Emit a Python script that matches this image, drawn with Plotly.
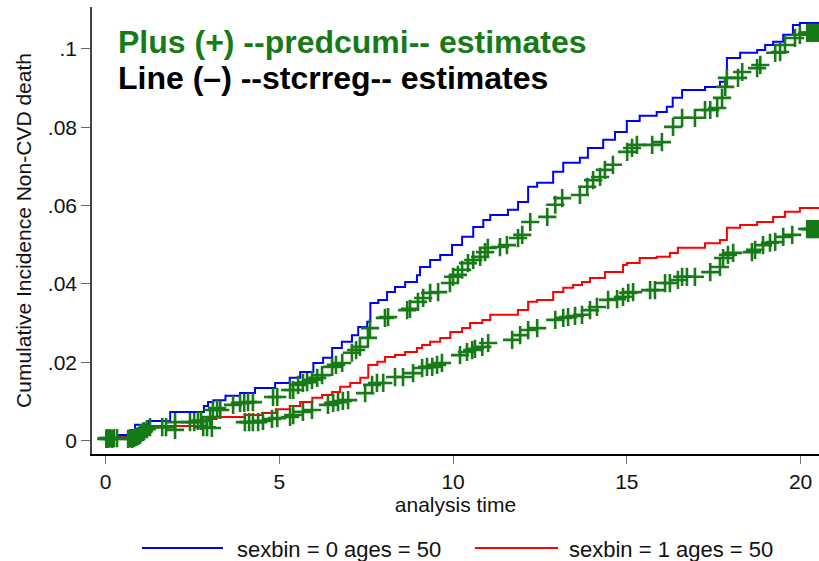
import plotly.graph_objects as go

# --- stcrreg cumulative incidence (step functions): jump times and levels ---
sex0_time = [0.3, 0.7, 0.85, 1.22, 1.86, 2.83, 2.95, 3.1, 3.45, 3.87, 4.3, 4.88, 5.3, 5.6,
             5.98, 6.26, 6.52, 6.8, 7.09, 7.27, 7.53, 7.62, 7.85, 8.1, 8.33, 8.62, 8.96, 9.05,
             9.34, 9.63, 9.97, 10.26, 10.58, 10.87, 11.07, 11.58, 11.87, 12.16, 12.42, 12.88,
             13.17, 13.65, 13.88, 14.32, 14.66, 15.0, 15.37, 15.86, 16.15, 16.32, 16.59, 17.25,
             17.68, 17.88, 18.26, 18.75, 18.98, 19.21, 19.5, 19.78, 19.98, 20.53]
sex0_cif = [0.0014, 0.0027, 0.0040, 0.0050, 0.0073, 0.0088, 0.0098, 0.0103, 0.0114, 0.0121,
            0.0134, 0.0147, 0.0160, 0.0175, 0.0198, 0.0211, 0.0236, 0.0252, 0.0269, 0.0290,
            0.0303, 0.0351, 0.0359, 0.0379, 0.0392, 0.0405, 0.0422, 0.0443, 0.0461, 0.0474,
            0.0499, 0.0520, 0.0545, 0.0563, 0.0576, 0.0589, 0.0609, 0.0648, 0.0658, 0.0686,
            0.0709, 0.0722, 0.0747, 0.0768, 0.0788, 0.0816, 0.0829, 0.0839, 0.0852, 0.0875,
            0.0895, 0.0903, 0.0916, 0.0977, 0.0990, 0.0997, 0.1010, 0.1018, 0.1036, 0.1061,
            0.1066, 0.1066]

sex1_time = [0.28, 0.66, 1.0, 1.3, 2.9, 3.2, 4.0, 4.5, 4.9, 5.3, 5.6, 5.95, 6.23, 6.52, 6.75,
             7.04, 7.33, 7.56, 7.82, 8.04, 8.33, 8.62, 8.96, 9.11, 9.34, 9.63, 9.92, 10.26,
             10.49, 10.84, 11.07, 11.87, 12.16, 12.42, 12.88, 13.17, 13.45, 13.71, 13.94, 14.37,
             14.89, 15.0, 15.37, 15.86, 16.24, 16.47, 17.25, 17.68, 17.88, 18.26, 18.75, 19.21,
             19.55, 19.98, 20.53]
sex1_cif = [0.0009, 0.0022, 0.0027, 0.0037, 0.0055, 0.0060, 0.0065, 0.0070, 0.0080, 0.0088,
            0.0098, 0.0109, 0.0116, 0.0124, 0.0137, 0.0147, 0.0160, 0.0193, 0.0201, 0.0213,
            0.0218, 0.0226, 0.0236, 0.0244, 0.0252, 0.0262, 0.0277, 0.0287, 0.0300, 0.0308,
            0.0321, 0.0333, 0.0354, 0.0359, 0.0379, 0.0390, 0.0397, 0.0405, 0.0415, 0.0430,
            0.0448, 0.0453, 0.0466, 0.0469, 0.0479, 0.0492, 0.0504, 0.0512, 0.0543, 0.0550,
            0.0558, 0.0571, 0.0584, 0.0594, 0.0594]

# --- predcumi estimates (plus markers) ---
pred0_time = [0.04, 0.13, 0.24, 0.33, 0.71, 0.82, 0.94, 1.02, 1.11, 1.19, 1.28, 2.0, 2.43, 2.55,
              2.66, 2.75, 3.01, 3.09, 3.21, 3.3, 3.67, 3.87, 3.99, 4.1, 4.24, 4.82, 4.94, 5.31,
              5.4, 5.54, 5.68, 5.8, 5.94, 6.09, 6.23, 6.52, 6.63, 6.81, 7.09, 7.21, 7.32, 7.55,
              7.61, 8.04, 8.13, 8.68, 8.76, 8.99, 9.14, 9.34, 9.57, 9.91, 10.0, 10.14, 10.26,
              10.43, 10.58, 10.78, 10.92, 11.0, 11.35, 11.55, 11.87, 11.99, 12.22, 12.71, 12.94,
              13.14, 13.65, 13.86, 14.03, 14.23, 14.37, 14.6, 15.01, 15.15, 15.29, 15.73, 16.01,
              16.33, 16.59, 16.96, 17.25, 17.4, 17.6, 17.74, 17.83, 17.88, 18.2, 18.32, 18.75,
              18.84, 19.27, 19.41, 19.55, 19.84, 19.98, 20.19, 20.25, 20.3, 20.35, 20.4, 20.45,
              20.5]
pred0_cif = [0.0006, 0.0006, 0.0006, 0.0006, 0.0006, 0.0006, 0.0011, 0.0019, 0.0024, 0.0029,
             0.0034, 0.0047, 0.0047, 0.0047, 0.0050, 0.0050, 0.0060, 0.0078, 0.0083, 0.0078,
             0.0091, 0.0096, 0.0096, 0.0098, 0.0098, 0.0111, 0.0111, 0.0129, 0.0129, 0.0142,
             0.0147, 0.0149, 0.0155, 0.0160, 0.0167, 0.0188, 0.0193, 0.0198, 0.0224, 0.0231,
             0.0239, 0.0262, 0.0287, 0.0313, 0.0315, 0.0333, 0.0336, 0.0354, 0.0364, 0.0377,
             0.0379, 0.0402, 0.0418, 0.0423, 0.0436, 0.0453, 0.0461, 0.0469, 0.0481, 0.0492,
             0.0494, 0.0499, 0.0517, 0.0525, 0.0558, 0.0571, 0.0602, 0.0619, 0.0627, 0.0648,
             0.0665, 0.0673, 0.0691, 0.0704, 0.0737, 0.0747, 0.0755, 0.0755, 0.0762, 0.0801,
             0.0824, 0.0824, 0.0844, 0.0844, 0.0849, 0.0875, 0.0903, 0.0926, 0.0926, 0.0941,
             0.0951, 0.0959, 0.0990, 0.0992, 0.1010, 0.1028, 0.1036, 0.1041, 0.1041, 0.1041,
             0.1041, 0.1041, 0.1041, 0.1041]

pred1_time = [0.02, 0.08, 0.19, 0.65, 0.76, 0.88, 0.99, 1.08, 1.63, 1.74, 2.0, 2.81, 2.92, 3.06,
              4.01, 4.13, 4.24, 4.39, 4.53, 4.79, 4.94, 5.31, 5.4, 5.68, 5.94, 6.4, 6.55, 6.69,
              6.83, 6.98, 7.47, 7.67, 7.81, 7.99, 8.33, 8.56, 8.85, 9.11, 9.25, 9.4, 9.54, 9.68,
              10.2, 10.4, 10.55, 10.63, 10.84, 11.01, 11.7, 11.93, 12.16, 12.42, 12.94, 13.17,
              13.31, 13.51, 13.71, 13.94, 14.14, 14.46, 14.72, 14.89, 15.04, 15.18, 15.67, 15.81,
              16.1, 16.24, 16.47, 16.59, 16.73, 16.96, 17.4, 17.68, 17.77, 17.91, 18.06, 18.6,
              18.69, 18.92, 19.12, 19.27, 19.5, 19.76, 20.19, 20.25, 20.3, 20.35, 20.4, 20.45,
              20.5]
pred1_cif = [0.0004, 0.0004, 0.0004, 0.0004, 0.0004, 0.0009, 0.0014, 0.0022, 0.0034, 0.0034,
             0.0027, 0.0034, 0.0034, 0.0032, 0.0047, 0.0047, 0.0047, 0.0047, 0.0050, 0.0055,
             0.0057, 0.0060, 0.0065, 0.0073, 0.0078, 0.0091, 0.0096, 0.0098, 0.0101, 0.0103,
             0.0121, 0.0142, 0.0147, 0.0147, 0.0162, 0.0162, 0.0172, 0.0185, 0.0188, 0.0188,
             0.0193, 0.0198, 0.0218, 0.0226, 0.0231, 0.0234, 0.0239, 0.0249, 0.0257, 0.0269,
             0.0282, 0.0287, 0.0308, 0.0313, 0.0315, 0.0318, 0.0321, 0.0333, 0.0341, 0.0359,
             0.0361, 0.0367, 0.0377, 0.0379, 0.0384, 0.0384, 0.0402, 0.0402, 0.0410, 0.0418,
             0.0418, 0.0418, 0.0430, 0.0443, 0.0466, 0.0474, 0.0479, 0.0481, 0.0487, 0.0499,
             0.0505, 0.0507, 0.0520, 0.0525, 0.0540, 0.0540, 0.0540, 0.0540, 0.0540, 0.0540,
             0.0540]

x_ticks = [0, 5, 10, 15, 20]
y_ticks = [0, 0.02, 0.04, 0.06, 0.08, 0.1]
y_ticktext = ["0", ".02", ".04", ".06", ".08", ".1"]
legend_labels = ["sexbin = 0 ages = 50", "sexbin = 1 ages = 50"]

BLUE = "#0000ff"
RED = "#ff0000"
GREEN = "#167a16"
FONT = "Arial, Liberation Sans, sans-serif"
TXT = 21

W, H = 819, 561
L, R, T, B = 92, 0, 7, 107
PW, PH = W - L - R, H - T - B


def px(xp):
    return (xp - L) / PW


def py(yp):
    return (H - B - yp) / PH


fig = go.Figure()

fig.add_trace(go.Scatter(x=sex0_time, y=sex0_cif, mode="lines", line_shape="hv",
                         line=dict(color=BLUE, width=2), showlegend=False))
fig.add_trace(go.Scatter(x=sex1_time, y=sex1_cif, mode="lines", line_shape="hv",
                         line=dict(color=RED, width=2), showlegend=False))

plus = dict(symbol="cross-thin", size=13, line=dict(color=GREEN, width=2.6), color=GREEN)
fig.add_trace(go.Scatter(x=pred0_time, y=pred0_cif, mode="markers", marker=plus,
                         showlegend=False))
fig.add_trace(go.Scatter(x=pred1_time, y=pred1_cif, mode="markers", marker=plus,
                         showlegend=False))

# Heading text inside the plot region
fig.add_annotation(text="<b>Plus (+) --predcumi-- estimates</b>", xref="paper", yref="paper",
                   x=px(116), y=py(42), xanchor="left", yanchor="middle", showarrow=False,
                   font=dict(family=FONT, size=32, color=GREEN))
fig.add_annotation(text="<b>Line (–) --stcrreg-- estimates</b>", xref="paper", yref="paper",
                   x=px(116), y=py(78), xanchor="left", yanchor="middle", showarrow=False,
                   font=dict(family=FONT, size=32, color="#000000"))

# Legend below the axis: line keys with labels
for (x0, x1, xt), colr, lab in zip([(142, 223, 235), (475, 558, 567)], [BLUE, RED],
                                   legend_labels):
    fig.add_shape(type="line", xref="paper", yref="paper", x0=px(x0), x1=px(x1),
                  y0=py(548), y1=py(548), line=dict(color=colr, width=2))
    fig.add_annotation(text=lab, xref="paper", yref="paper", x=px(xt), y=py(549),
                       xanchor="left", yanchor="middle", showarrow=False,
                       font=dict(family=FONT, size=22, color="#111111"))

fig.update_layout(
    width=W, height=H,
    margin=dict(l=L, r=R, t=T, b=B, pad=0),
    paper_bgcolor="white", plot_bgcolor="white",
    font=dict(family=FONT, size=TXT, color="#111111"),
    showlegend=False,
)

fig.update_xaxes(range=[-0.39, 20.53], tickvals=x_ticks, ticks="outside", ticklen=8,
                 tickcolor="#777777", tickwidth=1, showline=True, linecolor="#000000",
                 linewidth=1.5, showgrid=False, zeroline=False, ticklabelstandoff=0,
                 tickfont=dict(size=TXT),
                 title=dict(text="analysis time", font=dict(size=TXT), standoff=0))
fig.update_yaxes(range=[-0.00345, 0.1107], tickvals=y_ticks, ticktext=y_ticktext,
                 ticks="outside", ticklen=9, tickcolor="#666666", tickwidth=1,
                 showline=True, linecolor="#444444", linewidth=1.5, showgrid=False,
                 zeroline=False, tickfont=dict(size=TXT),
                 title=dict(text="Cumulative Incidence Non-CVD death", font=dict(size=TXT),
                            standoff=10))

fig.write_html("out.html")
